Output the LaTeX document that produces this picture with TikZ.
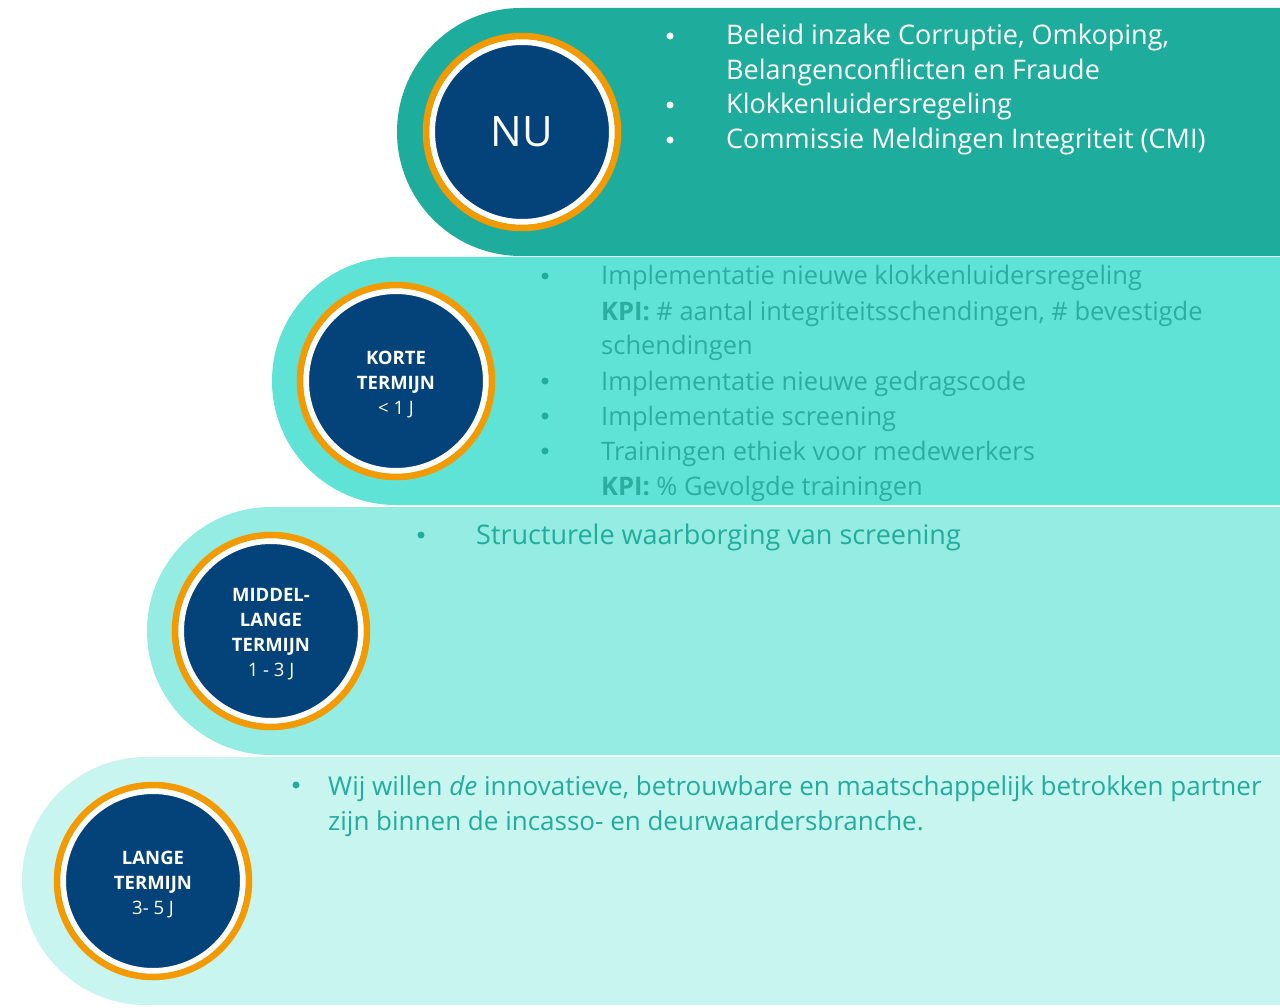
\documentclass[tikz,border=0pt]{standalone}
\usepackage{fontspec}
\setmainfont{Open Sans}
\definecolor{bandnu}{HTML}{1EAD9D}
\definecolor{bandkort}{HTML}{5EE3D6}
\definecolor{bandmid}{HTML}{94ECE3}
\definecolor{bandlang}{HTML}{C8F5F0}
\definecolor{navy}{HTML}{03437A}
\definecolor{ringorange}{HTML}{F29A00}
\definecolor{tealtext}{HTML}{22AC9C}
\definecolor{tealsoft}{HTML}{2BAE9F}

\tikzset{
  stagecircle/.style={circle, fill=navy, draw=white, line width=6pt, minimum size=180pt,
    inner sep=0pt, text=white, align=center},
  stagetext/.style={inner sep=0pt, text=white, align=center, font=\fontsize{18.5}{25}\selectfont},
  ring/.style={draw=ringorange, line width=6.5pt},
  item/.style={anchor=base west, inner sep=0pt, font=\fontsize{27}{35}\selectfont},
  kortitem/.style={item, font=\fontsize{25.5}{35}\selectfont},
  langitem/.style={item, font=\fontsize{26}{35}\selectfont},
  dot/.style={circle, fill, inner sep=0pt, minimum size=7pt}
}

\begin{document}
\begin{tikzpicture}[x=1pt, y=-1pt]
	\clip (0,0) rectangle (1280,1008);
	\fill[white] (0,0) rectangle (1280,1008);
	% bands
	\fill[bandlang, rounded corners=124pt] (22,757) rectangle (1500,1005);
	\fill[bandmid, rounded corners=124pt] (147,507) rectangle (1500,755);
	\fill[bandkort, rounded corners=124pt] (272,257) rectangle (1500,505);
	\fill[bandnu, rounded corners=124pt] (397,8) rectangle (1500,256);

	% circles
	\node[stagecircle, font=\fontsize{42}{50}\selectfont] (nu) at (522,132) {NU};
	\draw[ring] (nu.center) circle (96pt);
	\node[stagecircle] (kort) at (396,381) {};
	\draw[ring] (kort.center) circle (96pt);
	\node[stagetext] (kort-t) at ([yshift=-3.5pt]kort.center) {\textbf{KORTE}\\\textbf{TERMIJN}\\< 1 J};
	\node[stagecircle] (mid) at (271,631) {};
	\draw[ring] (mid.center) circle (96pt);
	\node[stagetext] (mid-t) at ([yshift=-3.5pt]mid.center) {\textbf{MIDDEL-}\\\textbf{LANGE}\\\textbf{TERMIJN}\\1 - 3 J};
	\node[stagecircle] (lang) at (153,881) {};
	\draw[ring] (lang.center) circle (96pt);
	\node[stagetext] (lang-t) at ([yshift=-3.5pt]lang.center) {\textbf{LANGE}\\\textbf{TERMIJN}\\3- 5 J};

	% nu
	\node[dot, white] (nu-d1) at (670,36) {};
	\node[dot, white] (nu-d2) at (670,105) {};
	\node[dot, white] (nu-d3) at (670,140) {};
	\node[item, white] (nu-l1) at (726,45) {Beleid inzake Corruptie, Omkoping,};
	\node[item, white] (nu-l2) at (726,80) {Belangenconflicten en Fraude};
	\node[item, white] (nu-l3) at (726,114) {Klokkenluidersregeling};
	\node[item, white] (nu-l4) at (726,149) {Commissie Meldingen Integriteit (CMI)};

	% korte termijn
	\node[dot, tealtext] (kort-d1) at (545,276) {};
	\node[dot, tealtext] (kort-d2) at (545,381) {};
	\node[dot, tealtext] (kort-d3) at (545,416) {};
	\node[dot, tealtext] (kort-d4) at (545,451) {};
	\node[kortitem, tealsoft] (kort-l1) at (601,285) {Implementatie nieuwe klokkenluidersregeling};
	\node[kortitem, tealsoft] (kort-l2) at (601,320) {\textbf{KPI:} \# aantal integriteitsschendingen, \# bevestigde};
	\node[kortitem, tealsoft] (kort-l3) at (601,355) {schendingen};
	\node[kortitem, tealsoft] (kort-l4) at (601,390) {Implementatie nieuwe gedragscode};
	\node[kortitem, tealsoft] (kort-l5) at (601,425) {Implementatie screening};
	\node[kortitem, tealsoft] (kort-l6) at (601,460) {Trainingen ethiek voor medewerkers};
	\node[kortitem, tealsoft] (kort-l7) at (601,495) {\textbf{KPI:} \% Gevolgde trainingen};

	% middellange termijn
	\node[dot, tealtext] (mid-d1) at (421,535) {};
	\node[item, tealtext] (mid-l1) at (476,544) {Structurele waarborging van screening};

	% lange termijn
	\node[dot, tealtext] (lang-d1) at (296,785) {};
	\node[langitem, tealtext] (lang-l1) at (328,795) {Wij willen \textit{de} innovatieve, betrouwbare en maatschappelijk betrokken partner};
	\node[langitem, tealtext] (lang-l2) at (328,830) {zijn binnen de incasso- en deurwaardersbranche.};
\end{tikzpicture}
\end{document}
